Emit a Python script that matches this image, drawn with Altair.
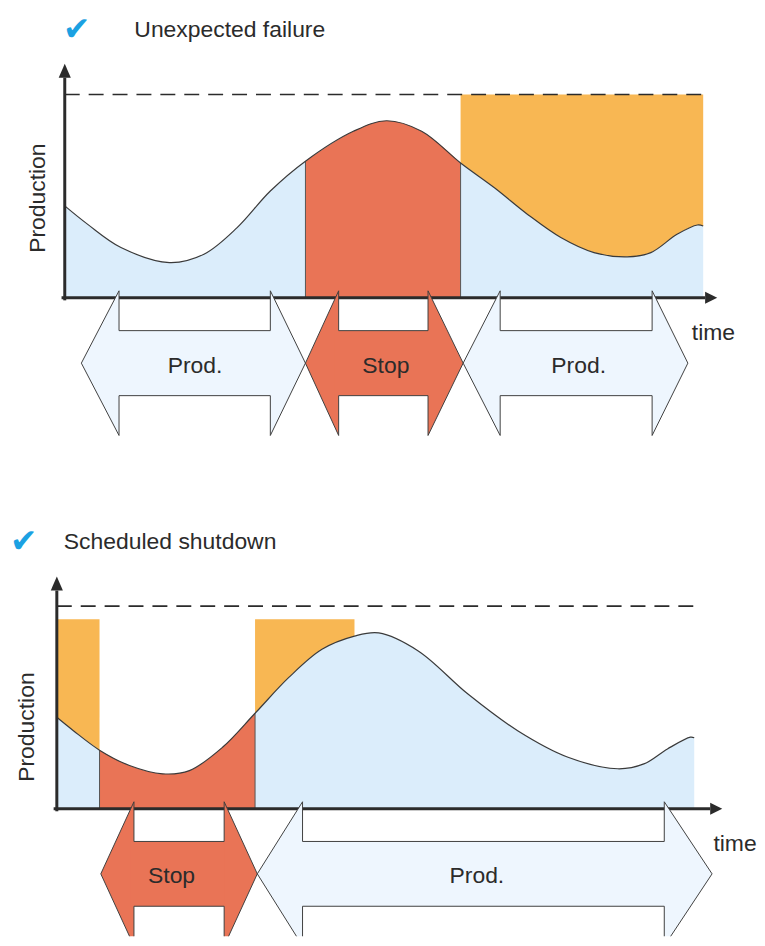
import altair as alt
import pandas as pd

# ---------------- Panel 1: "Unexpected failure" ----------------
# time (% of horizon) and production (% of capacity)
time1 = [0, 3.6, 8.8, 16.4, 21.8, 27.0, 32.2, 37.7, 45.2, 50.4, 55.9, 62.0,
         67.3, 72.5, 77.7, 82.9, 88.1, 91.8, 95.9, 99.1, 100]
prod1 = [45.2, 36.1, 24.7, 17.3, 21.4, 34.5, 52.5, 67.2, 81.9, 87.1, 81.9, 66.3,
         54.1, 41.0, 29.6, 22.2, 20.1, 22.2, 31.2, 35.8, 35.3]
stop1 = [37.7, 62.0]
lost1 = [[62.0, 100.0]]
lost_level1 = 100
phase_names1 = ["Prod.", "Stop", "Prod."]
phase_start1 = [2.6, 37.7, 62.4]
phase_end1 = [37.7, 62.4, 97.6]
head_left1 = [5.9, 5.2, 5.8]
head_right1 = [5.5, 5.5, 5.6]
phase_label_t1 = [20.4, 50.3, 80.5]

# ---------------- Panel 2: "Scheduled shutdown" ----------------
time2 = [0, 2.6, 6.7, 11.4, 16.6, 20.8, 26.0, 31.1, 36.4, 41.6, 46.7, 50.5,
         56.7, 64.5, 72.3, 80.2, 88.0, 92.1, 95.8, 99.4, 100]
prod2 = [45.1, 38.5, 28.9, 21.3, 17.2, 18.8, 30.3, 47.1, 64.8, 78.7, 85.2, 86.8,
         77.9, 56.6, 38.5, 25.4, 19.7, 22.1, 29.5, 35.3, 35.0]
stop2 = [6.7, 31.1]
lost2 = [[0.0, 6.7], [31.1, 46.7]]
lost_level2 = 93.5
phase_names2 = ["Stop", "Prod."]
phase_start2 = [6.9, 31.45]
phase_end2 = [31.45, 102.8]
head_left2 = [5.2, 7.1]
head_right2 = [5.2, 7.5]
phase_label_t2 = [18.0, 65.9]

titles = ["Unexpected failure", "Scheduled shutdown"]
capacity = 100

# ---------------- styles ----------------
BLUE = "#dbedfb"
RED = "#e97456"
ORANGE = "#f8b753"
ARROW_PROD = "#eef6fe"
INK = "#2b2b2b"
LINE = "#3a3a3a"
CHECK = "#1ba1e2"
FONT = "Liberation Sans"
FS = 23
CURVE = "catmull-rom"
BAND = dict(top=3.4, notch=-16.2, mid=-32.2, bnotch=-48.2, bottom=-67.8)


def build_panel(cfg):
    xs = alt.Scale(domain=cfg["xdom"], nice=False, zero=False)
    ys = alt.Scale(domain=cfg["ydom"], nice=False, zero=False)

    def X(f):
        return alt.X(f, type="quantitative", scale=xs, axis=None)

    def Y(f):
        return alt.Y(f, type="quantitative", scale=ys, axis=None)

    curve = pd.DataFrame({"t": cfg["time"], "p": cfg["prod"]})
    level = dict(zip(cfg["time"], cfg["prod"]))
    a, b = cfg["stop"]

    segs = []

    def seg(lo, hi, base, color, name):
        d = curve[(curve.t >= lo) & (curve.t <= hi)].copy()
        d["base"] = base
        d["fill"] = color
        d["seg"] = name
        segs.append(d)

    for i, (lo, hi) in enumerate(cfg["lost"]):
        seg(lo, hi, cfg["lost_level"], ORANGE, f"lost{i}")
    seg(0, a, 0, BLUE, "prodA")
    seg(b, 100, 0, BLUE, "prodB")
    seg(a, b, 0, RED, "stop")
    fills = pd.concat(segs, ignore_index=True)

    fill_layer = alt.Chart(fills).mark_area(interpolate=CURVE).encode(
        x=X("t"), y=Y("p"), y2=alt.Y2("base"),
        color=alt.Color("fill:N", scale=None), detail="seg:N")

    edges = pd.DataFrame({"t": [a, b], "p0": [0, 0], "p1": [level[a], level[b]]})
    edge_layer = alt.Chart(edges).mark_rule(color="#555555", strokeWidth=1).encode(
        x=X("t"), y=Y("p0"), y2=alt.Y2("p1"))

    line_layer = alt.Chart(curve).mark_line(
        interpolate=CURVE, color=LINE, strokeWidth=1.2).encode(x=X("t"), y=Y("p"))

    dash = pd.DataFrame({"t": [0, 100], "p": [capacity, capacity]})
    dash_layer = alt.Chart(dash).mark_line(
        color=INK, strokeWidth=1.6, strokeDash=[15, 9]).encode(x=X("t"), y=Y("p"))

    # axes with arrowheads
    yt, xt = cfg["ytip"], cfg["xtip"]
    axes = pd.DataFrame({"a1": [0, -0.5], "a2": [0, xt - 1.9],
                         "b1": [-1.3, 0], "b2": [yt - 6.9, 0]})
    axis_layer = alt.Chart(axes).mark_rule(color=INK, strokeWidth=3).encode(
        x=X("a1"), x2=alt.X2("a2"), y=Y("b1"), y2=alt.Y2("b2"))
    heads = pd.DataFrame({
        "g": ["y", "y", "y", "x", "x"],
        "u": [-0.95, 0, 0.95, xt - 1.9, xt],
        "v": [yt - 6.9, yt, yt - 6.9, 2.95, 0],
        "w": [yt - 6.9, yt - 6.9, yt - 6.9, -2.95, 0],
    })
    head_layer = alt.Chart(heads).mark_area(color=INK, interpolate="linear").encode(
        x=X("u"), y=Y("v"), y2=alt.Y2("w"), detail="g:N")

    # phase double arrows: fills in three pieces, outline as a closed polyline
    pieces, outline = [], []
    for k, name in enumerate(cfg["phases"]):
        s, e = cfg["starts"][k], cfg["ends"][k]
        hl, hr = cfg["hl"][k], cfg["hr"][k]
        col = RED if name == "Stop" else ARROW_PROD
        parts = [
            ([s, s + hl], [BAND["mid"], BAND["top"]], [BAND["mid"], BAND["bottom"]]),
            ([s + hl - 0.6, e - hr + 0.6], [BAND["notch"]] * 2, [BAND["bnotch"]] * 2),
            ([e - hr, e], [BAND["top"], BAND["mid"]], [BAND["bottom"], BAND["mid"]]),
        ]
        for j, (uu, vv, ww) in enumerate(parts):
            for q in range(2):
                pieces.append({"piece": f"{k}-{j}", "u": uu[q], "v": vv[q], "w": ww[q], "fill": col})
        ring_u = [s, s + hl, s + hl, e - hr, e - hr, e, e - hr, e - hr, s + hl, s + hl, s]
        ring_v = [BAND["mid"], BAND["top"], BAND["notch"], BAND["notch"], BAND["top"], BAND["mid"],
                  BAND["bottom"], BAND["bnotch"], BAND["bnotch"], BAND["bottom"], BAND["mid"]]
        for q in range(len(ring_u)):
            outline.append({"arrow": k, "k": q, "u": ring_u[q], "v": ring_v[q]})
    piece_layer = alt.Chart(pd.DataFrame(pieces)).mark_area(
        interpolate="linear", clip=True).encode(
        x=X("u"), y=Y("v"), y2=alt.Y2("w"),
        color=alt.Color("fill:N", scale=None), detail="piece:N")
    outline_layer = alt.Chart(pd.DataFrame(outline)).mark_line(
        color="#404040", strokeWidth=1, clip=True).encode(
        x=X("u"), y=Y("v"), detail="arrow:N", order="k:Q")

    labels = pd.DataFrame({"t": cfg["label_t"] + [cfg["time_t"]],
                           "p": [-33.5] * len(cfg["label_t"]) + [-17.6],
                           "txt": cfg["phases"] + ["time"]})
    label_layer = alt.Chart(labels).mark_text(
        font=FONT, fontSize=FS, color=INK, align="center", baseline="middle").encode(
        x=X("t"), y=Y("p"), text="txt:N")

    title_df = pd.DataFrame({"t": [cfg["title_t"]], "p": [131.5], "txt": [cfg["title"]]})
    title_layer = alt.Chart(title_df).mark_text(
        font=FONT, fontSize=FS, color=INK, align="left", baseline="middle").encode(
        x=X("t"), y=Y("p"), text="txt:N")

    check_df = pd.DataFrame({"t": [cfg["check_t"]], "p": [131.5], "txt": ["\u2714"]})
    check_layer = alt.Chart(check_df).mark_text(
        font="DejaVu Sans", fontSize=33, color=CHECK, align="center", baseline="middle").encode(
        x=X("t"), y=Y("p"), text="txt:N")

    ylab_df = pd.DataFrame({"t": [cfg["ylab_t"]], "p": [cfg["ylab_p"]], "txt": ["Production"]})
    ylab_layer = alt.Chart(ylab_df).mark_text(
        font=FONT, fontSize=FS, color=INK, align="center", baseline="middle", angle=270).encode(
        x=X("t"), y=Y("p"), text="txt:N")

    return alt.layer(fill_layer, edge_layer, line_layer, dash_layer, axis_layer, head_layer,
                     piece_layer, outline_layer, label_layer, title_layer, check_layer, ylab_layer
                     ).properties(width=749, height=460)


panel1 = build_panel(dict(
    time=time1, prod=prod1, stop=stop1, lost=lost1, lost_level=lost_level1,
    phases=phase_names1, starts=phase_start1, ends=phase_end1, hl=head_left1, hr=head_right1,
    label_t=phase_label_t1, time_t=101.6, title=titles[0], title_t=10.9, check_t=1.9,
    ylab_t=-4.2, ylab_p=49, ytip=115.2, xtip=102.2,
    xdom=[-8.89, 107.96], ydom=[-83.82, 141.67]))

panel2 = build_panel(dict(
    time=time2, prod=prod2, stop=stop2, lost=lost2, lost_level=lost_level2,
    phases=phase_names2, starts=phase_start2, ends=phase_end2, hl=head_left2, hr=head_right2,
    label_t=phase_label_t2, time_t=106.4, title=titles[1], title_t=1.1, check_t=-5.2,
    ylab_t=-4.7, ylab_p=40.3, ytip=114.6, xtip=104.4,
    xdom=[-7.66, 109.38], ydom=[-62.96, 163.3]))

chart = alt.VConcatChart(vconcat=[panel1, panel2], spacing=10, bounds="flush",
                         padding=0).configure_view(strokeWidth=0)

chart.save("out.html", embed_options={"renderer": "svg", "actions": False})
